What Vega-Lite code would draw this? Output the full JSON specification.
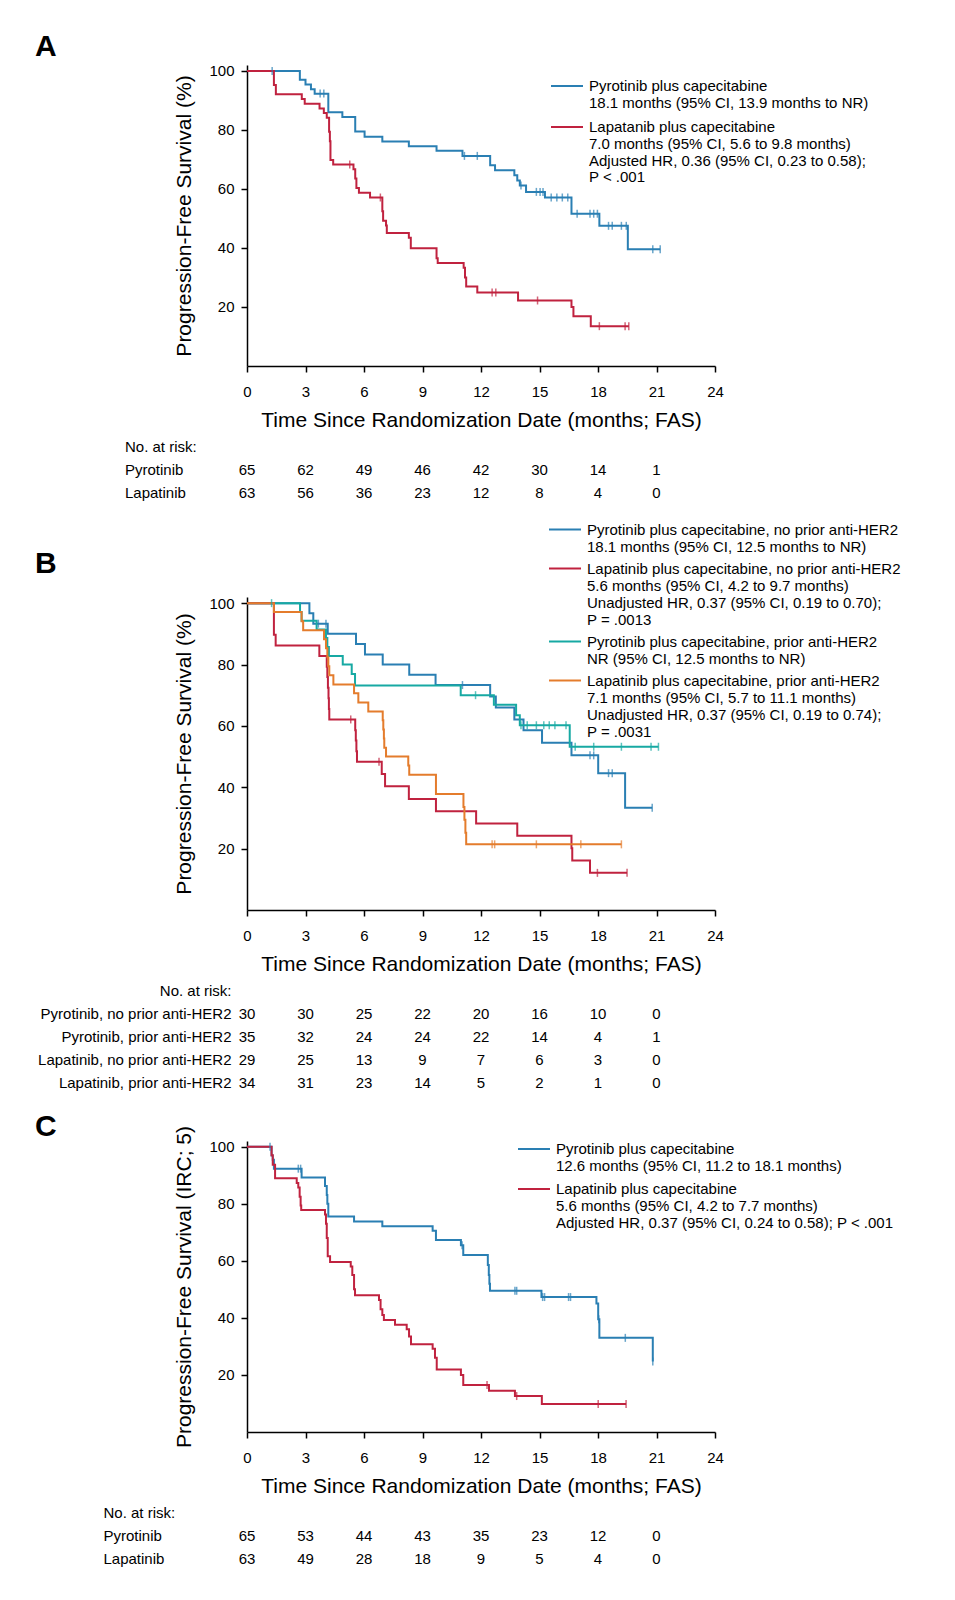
{
  "$schema": "https://vega.github.io/schema/vega-lite/v6.json",
  "autosize": "none",
  "padding": {"left": 247, "top": 65, "right": 708, "bottom": 1535},
  "background": "white",
  "bounds": "flush",
  "spacing": 23.5,
  "resolve": {"scale": {"color": "independent"}, "legend": {"color": "independent"}},
  "config": {
    "view": {"stroke": null},
    "font": "Liberation Sans",
    "axis": {"grid": false, "domainColor": "#000", "tickColor": "#000", "labelColor": "#000", "titleColor": "#000", "labelFont": "Liberation Sans", "titleFont": "Liberation Sans", "titleFontWeight": "normal", "domainWidth": 1.5, "tickWidth": 1.5},
    "legend": {"labelFont": "Liberation Sans", "labelFontSize": 15, "labelColor": "#000", "labelLimit": 700, "symbolType": "M-2,0H2", "symbolSize": 256, "symbolStrokeWidth": 2, "symbolOffset": 7, "labelOffset": 13, "padding": 0},
    "title": {"anchor": "start", "frame": "group", "fontSize": 30, "fontWeight": "bold", "font": "Liberation Sans", "color": "#000", "offset": 4},
    "text": {"font": "Liberation Sans", "fontSize": 15, "color": "#000"}
  },
  "datasets": {
    "kmA": [
      {"g":"Pyrotinib","t":0,"s":100},{"g":"Pyrotinib","t":2.71,"s":97.0},{"g":"Pyrotinib","t":3.0,"s":95.4},{"g":"Pyrotinib","t":3.28,"s":93.8},{"g":"Pyrotinib","t":3.47,"s":92.3},{"g":"Pyrotinib","t":4.17,"s":86.0},{"g":"Pyrotinib","t":4.89,"s":84.4},{"g":"Pyrotinib","t":5.55,"s":79.5},{"g":"Pyrotinib","t":6.03,"s":77.7},{"g":"Pyrotinib","t":6.94,"s":76.1},{"g":"Pyrotinib","t":8.3,"s":74.5},{"g":"Pyrotinib","t":9.72,"s":72.9},{"g":"Pyrotinib","t":11.05,"s":71.2},{"g":"Pyrotinib","t":12.47,"s":68.0},{"g":"Pyrotinib","t":12.72,"s":66.3},{"g":"Pyrotinib","t":13.71,"s":64.6},{"g":"Pyrotinib","t":13.86,"s":62.9},{"g":"Pyrotinib","t":13.99,"s":61.2},{"g":"Pyrotinib","t":14.31,"s":59.0},{"g":"Pyrotinib","t":15.28,"s":57.1},{"g":"Pyrotinib","t":16.64,"s":51.6},{"g":"Pyrotinib","t":18.07,"s":47.5},{"g":"Pyrotinib","t":19.53,"s":39.6},{"g":"Pyrotinib","t":21.19,"s":39.6},
      {"g":"Lapatinib","t":0,"s":100},{"g":"Lapatinib","t":1.38,"s":95.2},{"g":"Lapatinib","t":1.48,"s":92.1},{"g":"Lapatinib","t":2.81,"s":90.5},{"g":"Lapatinib","t":2.96,"s":88.9},{"g":"Lapatinib","t":3.72,"s":87.3},{"g":"Lapatinib","t":3.94,"s":85.7},{"g":"Lapatinib","t":4.09,"s":84.1},{"g":"Lapatinib","t":4.21,"s":79.4},{"g":"Lapatinib","t":4.25,"s":76.2},{"g":"Lapatinib","t":4.28,"s":69.8},{"g":"Lapatinib","t":4.42,"s":68.3},{"g":"Lapatinib","t":5.46,"s":66.7},{"g":"Lapatinib","t":5.55,"s":63.5},{"g":"Lapatinib","t":5.61,"s":60.3},{"g":"Lapatinib","t":5.74,"s":58.7},{"g":"Lapatinib","t":6.31,"s":57.1},{"g":"Lapatinib","t":6.94,"s":52.4},{"g":"Lapatinib","t":6.98,"s":49.2},{"g":"Lapatinib","t":7.13,"s":47.6},{"g":"Lapatinib","t":7.17,"s":45.1},{"g":"Lapatinib","t":8.3,"s":43.5},{"g":"Lapatinib","t":8.4,"s":39.9},{"g":"Lapatinib","t":9.72,"s":36.5},{"g":"Lapatinib","t":9.78,"s":34.9},{"g":"Lapatinib","t":11.11,"s":33.3},{"g":"Lapatinib","t":11.18,"s":30.0},{"g":"Lapatinib","t":11.24,"s":26.9},{"g":"Lapatinib","t":11.81,"s":24.9},{"g":"Lapatinib","t":13.9,"s":22.2},{"g":"Lapatinib","t":16.64,"s":20.0},{"g":"Lapatinib","t":16.74,"s":16.9},{"g":"Lapatinib","t":17.63,"s":13.5},{"g":"Lapatinib","t":19.58,"s":13.5}
    ],
    "cA": [
      {"g":"Pyrotinib","t":1.29,"s":100},{"g":"Pyrotinib","t":3.75,"s":92.3},{"g":"Pyrotinib","t":3.94,"s":92.3},{"g":"Pyrotinib","t":11.15,"s":71.2},{"g":"Pyrotinib","t":11.81,"s":71.2},{"g":"Pyrotinib","t":14.05,"s":61.2},{"g":"Pyrotinib","t":14.84,"s":59.0},{"g":"Pyrotinib","t":15.03,"s":59.0},{"g":"Pyrotinib","t":15.18,"s":59.0},{"g":"Pyrotinib","t":15.6,"s":57.1},{"g":"Pyrotinib","t":15.89,"s":57.1},{"g":"Pyrotinib","t":16.17,"s":57.1},{"g":"Pyrotinib","t":16.45,"s":57.1},{"g":"Pyrotinib","t":16.93,"s":51.6},{"g":"Pyrotinib","t":17.59,"s":51.6},{"g":"Pyrotinib","t":17.78,"s":51.6},{"g":"Pyrotinib","t":17.97,"s":51.6},{"g":"Pyrotinib","t":18.54,"s":47.5},{"g":"Pyrotinib","t":18.73,"s":47.5},{"g":"Pyrotinib","t":19.2,"s":47.5},{"g":"Pyrotinib","t":19.45,"s":47.5},{"g":"Pyrotinib","t":20.81,"s":39.6},{"g":"Pyrotinib","t":21.19,"s":39.6},
      {"g":"Lapatinib","t":5.27,"s":68.3},{"g":"Lapatinib","t":6.84,"s":57.1},{"g":"Lapatinib","t":12.57,"s":24.9},{"g":"Lapatinib","t":12.76,"s":24.9},{"g":"Lapatinib","t":14.9,"s":22.2},{"g":"Lapatinib","t":18.07,"s":13.5},{"g":"Lapatinib","t":19.39,"s":13.5},{"g":"Lapatinib","t":19.58,"s":13.5}
    ],
    "rA": [
      {"row":"Pyrotinib","t":0,"n":65},{"row":"Pyrotinib","t":3,"n":62},{"row":"Pyrotinib","t":6,"n":49},{"row":"Pyrotinib","t":9,"n":46},{"row":"Pyrotinib","t":12,"n":42},{"row":"Pyrotinib","t":15,"n":30},{"row":"Pyrotinib","t":18,"n":14},{"row":"Pyrotinib","t":21,"n":1},
      {"row":"Lapatinib","t":0,"n":63},{"row":"Lapatinib","t":3,"n":56},{"row":"Lapatinib","t":6,"n":36},{"row":"Lapatinib","t":9,"n":23},{"row":"Lapatinib","t":12,"n":12},{"row":"Lapatinib","t":15,"n":8},{"row":"Lapatinib","t":18,"n":4},{"row":"Lapatinib","t":21,"n":0}
    ],
    "kmB": [
      {"g":"Pyrotinib, no prior anti-HER2","t":0,"s":100},{"g":"Pyrotinib, no prior anti-HER2","t":3.2,"s":96.7},{"g":"Pyrotinib, no prior anti-HER2","t":3.4,"s":93.3},{"g":"Pyrotinib, no prior anti-HER2","t":4.14,"s":90.0},{"g":"Pyrotinib, no prior anti-HER2","t":5.59,"s":86.7},{"g":"Pyrotinib, no prior anti-HER2","t":6.05,"s":83.3},{"g":"Pyrotinib, no prior anti-HER2","t":6.96,"s":80.0},{"g":"Pyrotinib, no prior anti-HER2","t":8.32,"s":76.7},{"g":"Pyrotinib, no prior anti-HER2","t":9.67,"s":73.3},{"g":"Pyrotinib, no prior anti-HER2","t":12.47,"s":69.6},{"g":"Pyrotinib, no prior anti-HER2","t":12.76,"s":66.0},{"g":"Pyrotinib, no prior anti-HER2","t":13.71,"s":62.1},{"g":"Pyrotinib, no prior anti-HER2","t":14.18,"s":58.6},{"g":"Pyrotinib, no prior anti-HER2","t":15.13,"s":54.5},{"g":"Pyrotinib, no prior anti-HER2","t":16.64,"s":50.4},{"g":"Pyrotinib, no prior anti-HER2","t":18.01,"s":44.6},{"g":"Pyrotinib, no prior anti-HER2","t":19.39,"s":33.3},{"g":"Pyrotinib, no prior anti-HER2","t":20.78,"s":33.3},
      {"g":"Pyrotinib, prior anti-HER2","t":0,"s":100},{"g":"Pyrotinib, prior anti-HER2","t":2.72,"s":97.1},{"g":"Pyrotinib, prior anti-HER2","t":2.8,"s":94.3},{"g":"Pyrotinib, prior anti-HER2","t":3.57,"s":91.4},{"g":"Pyrotinib, prior anti-HER2","t":4.05,"s":88.6},{"g":"Pyrotinib, prior anti-HER2","t":4.12,"s":85.7},{"g":"Pyrotinib, prior anti-HER2","t":4.2,"s":82.8},{"g":"Pyrotinib, prior anti-HER2","t":4.91,"s":80.0},{"g":"Pyrotinib, prior anti-HER2","t":5.37,"s":76.9},{"g":"Pyrotinib, prior anti-HER2","t":5.54,"s":73.2},{"g":"Pyrotinib, prior anti-HER2","t":10.96,"s":70.0},{"g":"Pyrotinib, prior anti-HER2","t":12.66,"s":66.9},{"g":"Pyrotinib, prior anti-HER2","t":13.8,"s":63.5},{"g":"Pyrotinib, prior anti-HER2","t":13.99,"s":60.2},{"g":"Pyrotinib, prior anti-HER2","t":16.55,"s":53.2},{"g":"Pyrotinib, prior anti-HER2","t":21.1,"s":53.2},
      {"g":"Lapatinib, no prior anti-HER2","t":0,"s":100},{"g":"Lapatinib, no prior anti-HER2","t":1.38,"s":89.7},{"g":"Lapatinib, no prior anti-HER2","t":1.47,"s":86.2},{"g":"Lapatinib, no prior anti-HER2","t":3.71,"s":82.8},{"g":"Lapatinib, no prior anti-HER2","t":4.09,"s":79.3},{"g":"Lapatinib, no prior anti-HER2","t":4.12,"s":75.9},{"g":"Lapatinib, no prior anti-HER2","t":4.15,"s":72.4},{"g":"Lapatinib, no prior anti-HER2","t":4.18,"s":69.0},{"g":"Lapatinib, no prior anti-HER2","t":4.2,"s":65.5},{"g":"Lapatinib, no prior anti-HER2","t":4.22,"s":62.1},{"g":"Lapatinib, no prior anti-HER2","t":5.55,"s":58.6},{"g":"Lapatinib, no prior anti-HER2","t":5.58,"s":55.2},{"g":"Lapatinib, no prior anti-HER2","t":5.61,"s":51.7},{"g":"Lapatinib, no prior anti-HER2","t":5.64,"s":48.3},{"g":"Lapatinib, no prior anti-HER2","t":6.91,"s":44.3},{"g":"Lapatinib, no prior anti-HER2","t":7.08,"s":40.3},{"g":"Lapatinib, no prior anti-HER2","t":8.3,"s":36.2},{"g":"Lapatinib, no prior anti-HER2","t":9.69,"s":32.2},{"g":"Lapatinib, no prior anti-HER2","t":11.75,"s":28.2},{"g":"Lapatinib, no prior anti-HER2","t":13.86,"s":24.2},{"g":"Lapatinib, no prior anti-HER2","t":16.64,"s":20.1},{"g":"Lapatinib, no prior anti-HER2","t":16.68,"s":16.1},{"g":"Lapatinib, no prior anti-HER2","t":17.59,"s":12.1},{"g":"Lapatinib, no prior anti-HER2","t":19.49,"s":12.1},
      {"g":"Lapatinib, prior anti-HER2","t":0,"s":100},{"g":"Lapatinib, prior anti-HER2","t":1.38,"s":97.1},{"g":"Lapatinib, prior anti-HER2","t":2.8,"s":94.1},{"g":"Lapatinib, prior anti-HER2","t":2.88,"s":91.2},{"g":"Lapatinib, prior anti-HER2","t":3.95,"s":88.2},{"g":"Lapatinib, prior anti-HER2","t":4.05,"s":85.3},{"g":"Lapatinib, prior anti-HER2","t":4.12,"s":82.4},{"g":"Lapatinib, prior anti-HER2","t":4.17,"s":79.4},{"g":"Lapatinib, prior anti-HER2","t":4.22,"s":76.5},{"g":"Lapatinib, prior anti-HER2","t":4.43,"s":73.5},{"g":"Lapatinib, prior anti-HER2","t":5.49,"s":70.6},{"g":"Lapatinib, prior anti-HER2","t":5.71,"s":67.6},{"g":"Lapatinib, prior anti-HER2","t":6.22,"s":64.7},{"g":"Lapatinib, prior anti-HER2","t":6.96,"s":61.8},{"g":"Lapatinib, prior anti-HER2","t":6.99,"s":58.8},{"g":"Lapatinib, prior anti-HER2","t":7.02,"s":55.9},{"g":"Lapatinib, prior anti-HER2","t":7.04,"s":52.9},{"g":"Lapatinib, prior anti-HER2","t":7.13,"s":50.0},{"g":"Lapatinib, prior anti-HER2","t":8.27,"s":47.1},{"g":"Lapatinib, prior anti-HER2","t":8.32,"s":44.1},{"g":"Lapatinib, prior anti-HER2","t":9.69,"s":37.8},{"g":"Lapatinib, prior anti-HER2","t":11.1,"s":33.6},{"g":"Lapatinib, prior anti-HER2","t":11.15,"s":29.4},{"g":"Lapatinib, prior anti-HER2","t":11.2,"s":25.2},{"g":"Lapatinib, prior anti-HER2","t":11.24,"s":21.4},{"g":"Lapatinib, prior anti-HER2","t":19.2,"s":21.4}
    ],
    "cB": [
      {"g":"Pyrotinib, no prior anti-HER2","t":3.66,"s":93.3},{"g":"Pyrotinib, no prior anti-HER2","t":4.05,"s":93.3},{"g":"Pyrotinib, no prior anti-HER2","t":11.05,"s":73.3},{"g":"Pyrotinib, no prior anti-HER2","t":17.59,"s":50.4},{"g":"Pyrotinib, no prior anti-HER2","t":17.78,"s":50.4},{"g":"Pyrotinib, no prior anti-HER2","t":18.54,"s":44.6},{"g":"Pyrotinib, no prior anti-HER2","t":18.73,"s":44.6},{"g":"Pyrotinib, no prior anti-HER2","t":20.78,"s":33.3},
      {"g":"Pyrotinib, prior anti-HER2","t":1.26,"s":100},{"g":"Pyrotinib, prior anti-HER2","t":11.72,"s":70.0},{"g":"Pyrotinib, prior anti-HER2","t":14.05,"s":60.2},{"g":"Pyrotinib, prior anti-HER2","t":14.37,"s":60.2},{"g":"Pyrotinib, prior anti-HER2","t":14.84,"s":60.2},{"g":"Pyrotinib, prior anti-HER2","t":15.22,"s":60.2},{"g":"Pyrotinib, prior anti-HER2","t":15.5,"s":60.2},{"g":"Pyrotinib, prior anti-HER2","t":15.79,"s":60.2},{"g":"Pyrotinib, prior anti-HER2","t":16.36,"s":60.2},{"g":"Pyrotinib, prior anti-HER2","t":16.83,"s":53.2},{"g":"Pyrotinib, prior anti-HER2","t":17.78,"s":53.2},{"g":"Pyrotinib, prior anti-HER2","t":19.2,"s":53.2},{"g":"Pyrotinib, prior anti-HER2","t":20.72,"s":53.2},{"g":"Pyrotinib, prior anti-HER2","t":21.1,"s":53.2},
      {"g":"Lapatinib, no prior anti-HER2","t":5.32,"s":62.1},{"g":"Lapatinib, no prior anti-HER2","t":6.77,"s":48.3},{"g":"Lapatinib, no prior anti-HER2","t":17.97,"s":12.1},{"g":"Lapatinib, no prior anti-HER2","t":19.49,"s":12.1},
      {"g":"Lapatinib, prior anti-HER2","t":12.57,"s":21.4},{"g":"Lapatinib, prior anti-HER2","t":12.7,"s":21.4},{"g":"Lapatinib, prior anti-HER2","t":14.84,"s":21.4},{"g":"Lapatinib, prior anti-HER2","t":17.12,"s":21.4},{"g":"Lapatinib, prior anti-HER2","t":19.2,"s":21.4}
    ],
    "rB": [
      {"row":"Pyrotinib, no prior anti-HER2","t":0,"n":30},{"row":"Pyrotinib, no prior anti-HER2","t":3,"n":30},{"row":"Pyrotinib, no prior anti-HER2","t":6,"n":25},{"row":"Pyrotinib, no prior anti-HER2","t":9,"n":22},{"row":"Pyrotinib, no prior anti-HER2","t":12,"n":20},{"row":"Pyrotinib, no prior anti-HER2","t":15,"n":16},{"row":"Pyrotinib, no prior anti-HER2","t":18,"n":10},{"row":"Pyrotinib, no prior anti-HER2","t":21,"n":0},
      {"row":"Pyrotinib, prior anti-HER2","t":0,"n":35},{"row":"Pyrotinib, prior anti-HER2","t":3,"n":32},{"row":"Pyrotinib, prior anti-HER2","t":6,"n":24},{"row":"Pyrotinib, prior anti-HER2","t":9,"n":24},{"row":"Pyrotinib, prior anti-HER2","t":12,"n":22},{"row":"Pyrotinib, prior anti-HER2","t":15,"n":14},{"row":"Pyrotinib, prior anti-HER2","t":18,"n":4},{"row":"Pyrotinib, prior anti-HER2","t":21,"n":1},
      {"row":"Lapatinib, no prior anti-HER2","t":0,"n":29},{"row":"Lapatinib, no prior anti-HER2","t":3,"n":25},{"row":"Lapatinib, no prior anti-HER2","t":6,"n":13},{"row":"Lapatinib, no prior anti-HER2","t":9,"n":9},{"row":"Lapatinib, no prior anti-HER2","t":12,"n":7},{"row":"Lapatinib, no prior anti-HER2","t":15,"n":6},{"row":"Lapatinib, no prior anti-HER2","t":18,"n":3},{"row":"Lapatinib, no prior anti-HER2","t":21,"n":0},
      {"row":"Lapatinib, prior anti-HER2","t":0,"n":34},{"row":"Lapatinib, prior anti-HER2","t":3,"n":31},{"row":"Lapatinib, prior anti-HER2","t":6,"n":23},{"row":"Lapatinib, prior anti-HER2","t":9,"n":14},{"row":"Lapatinib, prior anti-HER2","t":12,"n":5},{"row":"Lapatinib, prior anti-HER2","t":15,"n":2},{"row":"Lapatinib, prior anti-HER2","t":18,"n":1},{"row":"Lapatinib, prior anti-HER2","t":21,"n":0}
    ],
    "kmC": [
      {"g":"Pyrotinib","t":0,"s":100},{"g":"Pyrotinib","t":1.26,"s":96.9},{"g":"Pyrotinib","t":1.32,"s":95.4},{"g":"Pyrotinib","t":1.38,"s":92.3},{"g":"Pyrotinib","t":2.8,"s":89.2},{"g":"Pyrotinib","t":4.0,"s":86.2},{"g":"Pyrotinib","t":4.09,"s":83.1},{"g":"Pyrotinib","t":4.12,"s":80.0},{"g":"Pyrotinib","t":4.17,"s":75.5},{"g":"Pyrotinib","t":5.49,"s":73.8},{"g":"Pyrotinib","t":6.94,"s":72.1},{"g":"Pyrotinib","t":9.52,"s":70.5},{"g":"Pyrotinib","t":9.69,"s":67.3},{"g":"Pyrotinib","t":10.97,"s":65.5},{"g":"Pyrotinib","t":11.09,"s":62.0},{"g":"Pyrotinib","t":12.35,"s":58.5},{"g":"Pyrotinib","t":12.4,"s":55.0},{"g":"Pyrotinib","t":12.43,"s":52.0},{"g":"Pyrotinib","t":12.46,"s":49.5},{"g":"Pyrotinib","t":15.1,"s":47.3},{"g":"Pyrotinib","t":17.92,"s":45.0},{"g":"Pyrotinib","t":18.01,"s":39.5},{"g":"Pyrotinib","t":18.07,"s":33.0},{"g":"Pyrotinib","t":20.81,"s":24.7},
      {"g":"Lapatinib","t":0,"s":100},{"g":"Lapatinib","t":1.26,"s":97.0},{"g":"Lapatinib","t":1.32,"s":93.7},{"g":"Lapatinib","t":1.44,"s":88.9},{"g":"Lapatinib","t":2.55,"s":87.3},{"g":"Lapatinib","t":2.63,"s":85.7},{"g":"Lapatinib","t":2.7,"s":82.5},{"g":"Lapatinib","t":2.75,"s":79.4},{"g":"Lapatinib","t":2.78,"s":77.8},{"g":"Lapatinib","t":4.0,"s":76.2},{"g":"Lapatinib","t":4.05,"s":73.0},{"g":"Lapatinib","t":4.09,"s":68.0},{"g":"Lapatinib","t":4.14,"s":61.6},{"g":"Lapatinib","t":4.26,"s":59.6},{"g":"Lapatinib","t":5.32,"s":58.0},{"g":"Lapatinib","t":5.4,"s":55.0},{"g":"Lapatinib","t":5.49,"s":50.0},{"g":"Lapatinib","t":5.54,"s":47.9},{"g":"Lapatinib","t":6.77,"s":46.3},{"g":"Lapatinib","t":6.85,"s":43.0},{"g":"Lapatinib","t":6.94,"s":41.0},{"g":"Lapatinib","t":7.02,"s":39.3},{"g":"Lapatinib","t":7.59,"s":37.6},{"g":"Lapatinib","t":8.19,"s":36.0},{"g":"Lapatinib","t":8.31,"s":33.5},{"g":"Lapatinib","t":8.41,"s":30.8},{"g":"Lapatinib","t":9.52,"s":29.2},{"g":"Lapatinib","t":9.64,"s":26.0},{"g":"Lapatinib","t":9.73,"s":21.9},{"g":"Lapatinib","t":10.97,"s":20.0},{"g":"Lapatinib","t":11.09,"s":16.5},{"g":"Lapatinib","t":12.41,"s":14.5},{"g":"Lapatinib","t":13.74,"s":12.6},{"g":"Lapatinib","t":15.12,"s":9.8},{"g":"Lapatinib","t":19.44,"s":9.8}
    ],
    "cC": [
      {"g":"Pyrotinib","t":1.18,"s":100},{"g":"Pyrotinib","t":2.63,"s":92.3},{"g":"Pyrotinib","t":2.75,"s":92.3},{"g":"Pyrotinib","t":11.03,"s":65.5},{"g":"Pyrotinib","t":13.74,"s":49.5},{"g":"Pyrotinib","t":13.83,"s":49.5},{"g":"Pyrotinib","t":15.16,"s":47.3},{"g":"Pyrotinib","t":15.26,"s":47.3},{"g":"Pyrotinib","t":16.49,"s":47.3},{"g":"Pyrotinib","t":16.59,"s":47.3},{"g":"Pyrotinib","t":18.04,"s":39.5},{"g":"Pyrotinib","t":19.4,"s":33.0},{"g":"Pyrotinib","t":20.81,"s":24.7},
      {"g":"Lapatinib","t":12.31,"s":16.5},{"g":"Lapatinib","t":13.83,"s":12.6},{"g":"Lapatinib","t":18.01,"s":9.8},{"g":"Lapatinib","t":19.44,"s":9.8}
    ],
    "rC": [
      {"row":"Pyrotinib","t":0,"n":65},{"row":"Pyrotinib","t":3,"n":53},{"row":"Pyrotinib","t":6,"n":44},{"row":"Pyrotinib","t":9,"n":43},{"row":"Pyrotinib","t":12,"n":35},{"row":"Pyrotinib","t":15,"n":23},{"row":"Pyrotinib","t":18,"n":12},{"row":"Pyrotinib","t":21,"n":0},
      {"row":"Lapatinib","t":0,"n":63},{"row":"Lapatinib","t":3,"n":49},{"row":"Lapatinib","t":6,"n":28},{"row":"Lapatinib","t":9,"n":18},{"row":"Lapatinib","t":12,"n":9},{"row":"Lapatinib","t":15,"n":5},{"row":"Lapatinib","t":18,"n":4},{"row":"Lapatinib","t":21,"n":0}
    ]
  },
  "vconcat": [
    {
      "width": 468, "height": 301,
      "title": {"text": "A", "dx": -212, "dy": 2},
      "layer": [
        {
          "data": {"name": "kmA"},
          "mark": {"type": "line", "interpolate": "step-after", "strokeWidth": 2},
          "encoding": {
            "x": {"field": "t", "type": "quantitative", "scale": {"domain": [0, 24], "nice": false}, "axis": {"values": [0,3,6,9,12,15,18,21,24], "title": "Time Since Randomization Date (months; FAS)", "labelFontSize": 15, "titleFontSize": 21, "tickSize": 6, "labelPadding": 12, "titlePadding": 10, "labelFlush": false}},
            "y": {"field": "s", "type": "quantitative", "scale": {"domain": [0, 102], "nice": false}, "axis": {"values": [20,40,60,80,100], "title": "Progression-Free Survival (%)", "labelFontSize": 15, "titleFontSize": 21, "tickSize": 6, "labelPadding": 7, "titlePadding": 14}},
            "color": {"field": "g", "type": "nominal", "scale": {"domain": ["Pyrotinib", "Lapatinib"], "range": ["#2a7fb3", "#c0223f"]},
              "legend": {"orient": "none", "legendX": 304, "legendY": 12, "title": null, "rowPadding": 7, "encode": {"labels": {"update": {"lineHeight": {"value": 16.8}}}},
                "labelExpr": "datum.label == 'Pyrotinib' ? ['Pyrotinib plus capecitabine', '18.1 months (95% CI, 13.9 months to NR)'] : ['Lapatanib plus capecitabine', '7.0 months (95% CI, 5.6 to 9.8 months)', 'Adjusted HR, 0.36 (95% CI, 0.23 to 0.58);', 'P < .001']"}}
          }
        },
        {
          "data": {"name": "cA"},
          "mark": {"type": "tick", "orient": "vertical", "size": 8, "thickness": 1.5},
          "encoding": {
            "x": {"field": "t", "type": "quantitative"},
            "y": {"field": "s", "type": "quantitative"},
            "color": {"field": "g", "type": "nominal"}
          }
        }
      ]
    },
    {
      "width": 468, "height": 184,
      "data": {"name": "rA"},
      "mark": {"type": "text"},
      "encoding": {
        "x": {"field": "t", "type": "quantitative", "scale": {"domain": [0, 24], "nice": false}, "axis": null},
        "y": {"field": "row", "type": "nominal", "scale": {"type": "band", "domain": [" ", "  ", "No. at risk:", "Pyrotinib", "Lapatinib", "   ", "    ", "     "], "paddingInner": 0, "paddingOuter": 0}, "axis": {"title": null, "ticks": false, "tickSize": 0, "domain": false, "labelAlign": "left", "labelPadding": 122.5, "labelFontSize": 15, "labelLimit": 400}},
        "text": {"field": "n", "type": "quantitative"}
      }
    },
    {
      "width": 468, "height": 313,
      "title": {"text": "B", "dx": -212, "dy": 62},
      "layer": [
        {
          "data": {"name": "kmB"},
          "mark": {"type": "line", "interpolate": "step-after", "strokeWidth": 2},
          "encoding": {
            "x": {"field": "t", "type": "quantitative", "scale": {"domain": [0, 24], "nice": false}, "axis": {"values": [0,3,6,9,12,15,18,21,24], "title": "Time Since Randomization Date (months; FAS)", "labelFontSize": 15, "titleFontSize": 21, "tickSize": 6, "labelPadding": 12, "titlePadding": 10, "labelFlush": false}},
            "y": {"field": "s", "type": "quantitative", "scale": {"domain": [0, 102], "nice": false}, "axis": {"values": [20,40,60,80,100], "title": "Progression-Free Survival (%)", "labelFontSize": 15, "titleFontSize": 21, "tickSize": 6, "labelPadding": 7, "titlePadding": 14}},
            "color": {"field": "g", "type": "nominal", "scale": {"domain": ["Pyrotinib, no prior anti-HER2", "Lapatinib, no prior anti-HER2", "Pyrotinib, prior anti-HER2", "Lapatinib, prior anti-HER2"], "range": ["#2a7fb3", "#c0223f", "#17a9a3", "#e47c2c"]},
              "legend": {"orient": "none", "legendX": 302, "legendY": -76.5, "title": null, "rowPadding": 4, "encode": {"labels": {"update": {"lineHeight": {"value": 17.3}}}},
                "labelExpr": "datum.label == 'Pyrotinib, no prior anti-HER2' ? ['Pyrotinib plus capecitabine, no prior anti-HER2', '18.1 months (95% CI, 12.5 months to NR)'] : datum.label == 'Lapatinib, no prior anti-HER2' ? ['Lapatinib plus capecitabine, no prior anti-HER2', '5.6 months (95% CI, 4.2 to 9.7 months)', 'Unadjusted HR, 0.37 (95% CI, 0.19 to 0.70);', 'P = .0013'] : datum.label == 'Pyrotinib, prior anti-HER2' ? ['Pyrotinib plus capecitabine, prior anti-HER2', 'NR (95% CI, 12.5 months to NR)'] : ['Lapatinib plus capecitabine, prior anti-HER2', '7.1 months (95% CI, 5.7 to 11.1 months)', 'Unadjusted HR, 0.37 (95% CI, 0.19 to 0.74);', 'P = .0031']"}}
          }
        },
        {
          "data": {"name": "cB"},
          "mark": {"type": "tick", "orient": "vertical", "size": 8, "thickness": 1.5},
          "encoding": {
            "x": {"field": "t", "type": "quantitative"},
            "y": {"field": "s", "type": "quantitative"},
            "color": {"field": "g", "type": "nominal"}
          }
        }
      ]
    },
    {
      "width": 468, "height": 184,
      "data": {"name": "rB"},
      "mark": {"type": "text"},
      "encoding": {
        "x": {"field": "t", "type": "quantitative", "scale": {"domain": [0, 24], "nice": false}, "axis": null},
        "y": {"field": "row", "type": "nominal", "scale": {"type": "band", "domain": [" ", "  ", "No. at risk:", "Pyrotinib, no prior anti-HER2", "Pyrotinib, prior anti-HER2", "Lapatinib, no prior anti-HER2", "Lapatinib, prior anti-HER2", "   "], "paddingInner": 0, "paddingOuter": 0}, "axis": {"title": null, "ticks": false, "tickSize": 0, "domain": false, "labelAlign": "right", "labelPadding": 16, "labelFontSize": 15, "labelLimit": 400}},
        "text": {"field": "n", "type": "quantitative"}
      }
    },
    {
      "width": 468, "height": 291,
      "title": {"text": "C", "dx": -212, "dy": 21},
      "layer": [
        {
          "data": {"name": "kmC"},
          "mark": {"type": "line", "interpolate": "step-after", "strokeWidth": 2},
          "encoding": {
            "x": {"field": "t", "type": "quantitative", "scale": {"domain": [0, 24], "nice": false}, "axis": {"values": [0,3,6,9,12,15,18,21,24], "title": "Time Since Randomization Date (months; FAS)", "labelFontSize": 15, "titleFontSize": 21, "tickSize": 6, "labelPadding": 12, "titlePadding": 10, "labelFlush": false}},
            "y": {"field": "s", "type": "quantitative", "scale": {"domain": [0, 102], "nice": false}, "axis": {"values": [20,40,60,80,100], "title": "Progression-Free Survival (IRC; 5)", "labelFontSize": 15, "titleFontSize": 21, "tickSize": 6, "labelPadding": 7, "titlePadding": 14}},
            "color": {"field": "g", "type": "nominal", "scale": {"domain": ["Pyrotinib", "Lapatinib"], "range": ["#2a7fb3", "#c0223f"]},
              "legend": {"orient": "none", "legendX": 271, "legendY": -1, "title": null, "rowPadding": 6, "encode": {"labels": {"update": {"lineHeight": {"value": 16.8}}}},
                "labelExpr": "datum.label == 'Pyrotinib' ? ['Pyrotinib plus capecitabine', '12.6 months (95% CI, 11.2 to 18.1 months)'] : ['Lapatinib plus capecitabine', '5.6 months (95% CI, 4.2 to 7.7 months)', 'Adjusted HR, 0.37 (95% CI, 0.24 to 0.58); P < .001']"}}
          }
        },
        {
          "data": {"name": "cC"},
          "mark": {"type": "tick", "orient": "vertical", "size": 8, "thickness": 1.5},
          "encoding": {
            "x": {"field": "t", "type": "quantitative"},
            "y": {"field": "s", "type": "quantitative"},
            "color": {"field": "g", "type": "nominal"}
          }
        }
      ]
    },
    {
      "width": 468, "height": 115,
      "data": {"name": "rC"},
      "mark": {"type": "text"},
      "encoding": {
        "x": {"field": "t", "type": "quantitative", "scale": {"domain": [0, 24], "nice": false}, "axis": null},
        "y": {"field": "row", "type": "nominal", "scale": {"type": "band", "domain": [" ", "  ", "No. at risk:", "Pyrotinib", "Lapatinib"], "paddingInner": 0, "paddingOuter": 0}, "axis": {"title": null, "ticks": false, "tickSize": 0, "domain": false, "labelAlign": "left", "labelPadding": 144, "labelFontSize": 15, "labelLimit": 400}},
        "text": {"field": "n", "type": "quantitative"}
      }
    }
  ]
}
